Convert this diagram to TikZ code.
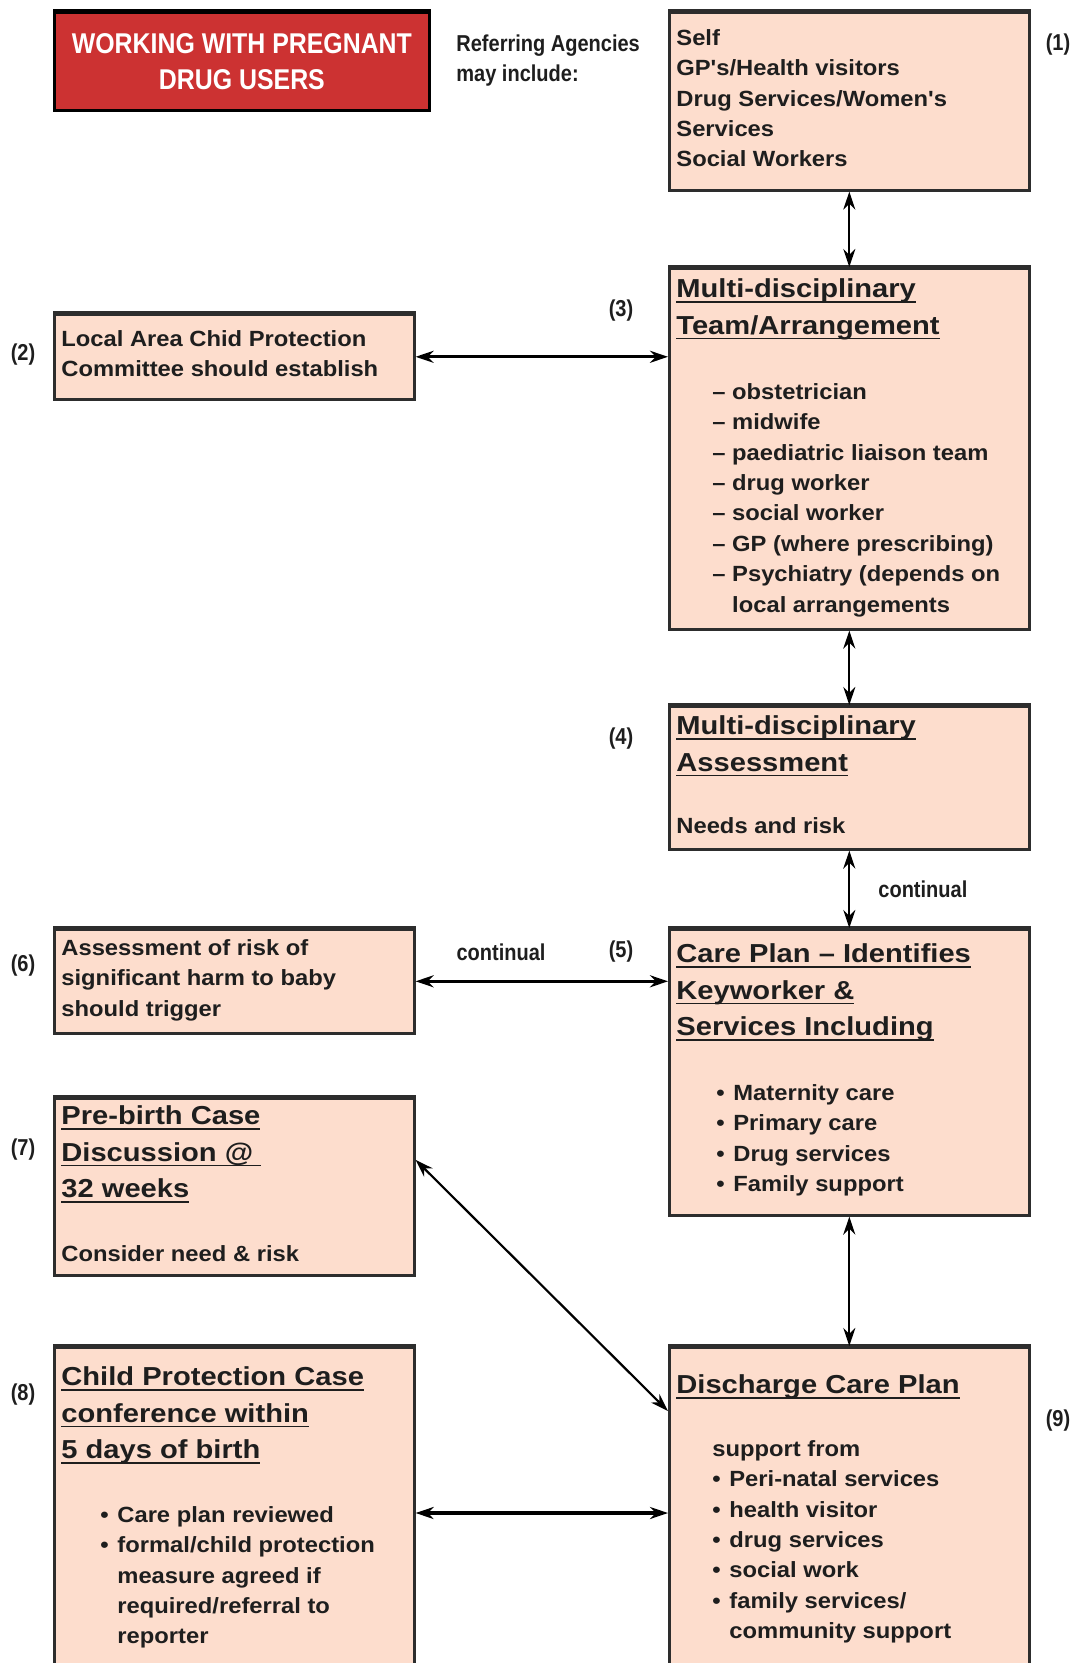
\documentclass[tikz,border=0pt]{standalone}
\usepackage{fontspec}
\usetikzlibrary{positioning,calc,arrows.meta}
\setmainfont{Liberation Sans}
\newfontfamily\boxfam[FakeStretch=1.08]{Liberation Sans}
\newfontfamily\headfam[FakeStretch=1.12]{Liberation Sans}
\newfontfamily\narrowfam[FakeStretch=0.87]{Liberation Sans}
\newcommand{\boxfont}{\boxfam\bfseries\fontsize{11}{15.2}\selectfont}
\newcommand{\headingfont}{\headfam\bfseries\fontsize{13}{18.3}\selectfont}
\newcommand{\narrowfont}{\narrowfam\bfseries\fontsize{11.5}{15}\selectfont}
\newcommand{\titlefont}{\narrowfam\bfseries\fontsize{14.3}{18}\selectfont}
\definecolor{peach}{RGB}{253,221,205}
\definecolor{boxline}{RGB}{45,45,45}
\definecolor{alarm}{RGB}{204,50,50}
\definecolor{ink}{RGB}{30,30,30}
\newsavebox{\ulbox}
\newcommand{\headul}[1]{\sbox{\ulbox}{#1}\rlap{\rule[-2.5pt]{\wd\ulbox}{0.9pt}}\usebox{\ulbox}}
\newcommand{\bitem}{\makebox[8.5pt][l]{\textbullet}}
\newcommand{\bskip}{\hspace*{8.5pt}}

\begin{document}
\begin{tikzpicture}[x=0.5pt,y=-0.5pt,
    box/.style={draw=boxline, fill=peach, line width=1.3pt, anchor=north west, inner sep=0pt, minimum width=180pt},
    topedge/.style={draw=boxline, line width=2.2pt},
    titlebox/.style={draw=black, fill=alarm, line width=1.4pt, anchor=north west, inner sep=0pt, minimum width=187.5pt, minimum height=49pt, text=white, align=center, font=\titlefont},
    boxtext/.style={anchor=north west, inner sep=0pt, align=left, text=ink, font=\boxfont},
    headtext/.style={boxtext, font=\headingfont},
    numtag/.style={inner sep=0pt, text=ink, font=\narrowfont},
    link/.style={{Stealth[length=9pt,width=6pt]}-{Stealth[length=9pt,width=6pt]}, line width=1.1pt, draw=black},
    widelink/.style={link, line width=1.6pt}]
  \useasboundingbox (0,0) rectangle (1075,1663);
  \clip (0,0) rectangle (1075,1663);

  \node[titlebox] (title) at (53,11) {WORKING WITH PREGNANT\\DRUG USERS};
  \node[numtag, anchor=north west, align=left] (referring) at (456,34) {Referring Agencies\\may include:};

  \node[box, minimum height=89pt] (agencies) at (668,11) {};
  \node[box, minimum height=180.5pt] (team) at (668,267) {};
  \node[box, minimum height=42.5pt] (lacpc) at (53,313) {};
  \node[box, minimum height=71.5pt] (assess) at (668,705) {};
  \node[box, minimum height=143pt] (careplan) at (668,928) {};
  \node[box, minimum height=52pt] (harm) at (53,928) {};
  \node[box, minimum height=88.5pt] (prebirth) at (53,1097) {};
  \node[box, minimum height=170pt] (conference) at (53,1346) {};
  \node[box, minimum height=170pt] (discharge) at (668,1346) {};
  \foreach \b in {agencies,team,lacpc,assess,careplan,harm,prebirth,conference,discharge}
    \draw[topedge] (\b.north west) -- (\b.north east);
  \draw[topedge, draw=black] (title.north west) -- (title.north east);

  \node[boxtext] (agencies-t) at ([shift={(8,18)}]agencies.north west) {Self\\GP's/Health visitors\\Drug Services/Women's\\Services\\Social Workers};
  \node[headtext] (team-h) at ([shift={(8,11.5)}]team.north west) {\headul{Multi-disciplinary}\\\headul{Team/Arrangement}};
  \node[boxtext] (team-t) at ([shift={(44,116)}]team.north west) {– obstetrician\\– midwife\\– paediatric liaison team\\– drug worker\\– social worker\\– GP (where prescribing)\\– Psychiatry (depends on\\\phantom{– }local arrangements};
  \node[boxtext] (lacpc-t) at ([shift={(8,17)}]lacpc.north west) {Local Area Chid Protection\\Committee should establish};
  \node[headtext] (assess-h) at ([shift={(8,10.5)}]assess.north west) {\headul{Multi-disciplinary}\\\headul{Assessment}};
  \node[boxtext] (assess-t) at ([shift={(8,112)}]assess.north west) {Needs and risk};
  \node[headtext] (careplan-h) at ([shift={(8,15.5)}]careplan.north west) {\headul{Care Plan – Identifies}\\\headul{Keyworker \&}\\\headul{Services Including}};
  \node[boxtext] (careplan-t) at ([shift={(48,156)}]careplan.north west) {\bitem Maternity care\\\bitem Primary care\\\bitem Drug services\\\bitem Family support};
  \node[boxtext] (harm-t) at ([shift={(8,11)}]harm.north west) {Assessment of risk of\\significant harm to baby\\should trigger};
  \node[headtext] (prebirth-h) at ([shift={(8,8.5)}]prebirth.north west) {\headul{Pre-birth Case}\\\headul{Discussion @\ }\\\headul{32 weeks}};
  \node[boxtext] (prebirth-t) at ([shift={(8,148)}]prebirth.north west) {Consider need \& risk};
  \node[headtext] (conference-h) at ([shift={(8,20.5)}]conference.north west) {\headul{Child Protection Case}\\\headul{conference within}\\\headul{5 days of birth}};
  \node[boxtext] (conference-t) at ([shift={(47,160)}]conference.north west) {\bitem Care plan reviewed\\\bitem formal/child protection\\\bskip measure agreed if\\\bskip required/referral to\\\bskip reporter};
  \node[headtext] (discharge-h) at ([shift={(8,28.5)}]discharge.north west) {\headul{Discharge Care Plan}};
  \node[boxtext] (discharge-t) at ([shift={(44,94)}]discharge.north west) {support from\\\bitem Peri-natal services\\\bitem health visitor\\\bitem drug services\\\bitem social work\\\bitem family services/\\\bskip community support};

  \draw[link] (agencies) -- (team);
  \draw[widelink] (lacpc.east) -- (lacpc.east -| team.west);
  \draw[link] (team) -- (assess);
  \draw[link] (assess) -- (careplan) node[midway, right=14pt, numtag] (cont-a) {continual};
  \draw[widelink] (harm.east) -- (harm.east -| careplan.west);
  \coordinate (diag-a) at ($(prebirth.north east)!0.35!(prebirth.south east)$);
  \coordinate (diag-b) at ([shift={(0,65)}]discharge.north west);
  \draw[link] (diag-a) -- (diag-b);
  \draw[link] (careplan) -- (discharge);
  \coordinate (conf-link) at ([shift={(0,167)}]conference.north east);
  \draw[widelink] (conf-link) -- (conf-link -| discharge.west);

  \node[numtag] (cont-b) at (501,952) {continual};
  \foreach \k/\x/\y in {1/1058/45, 2/23/355, 3/621/311, 4/621/739, 5/621/952, 6/23/966, 7/23/1150, 8/23/1395, 9/1058/1421}
    \node[numtag] (tag\k) at (\x,\y) {(\k)};
\end{tikzpicture}
\end{document}
